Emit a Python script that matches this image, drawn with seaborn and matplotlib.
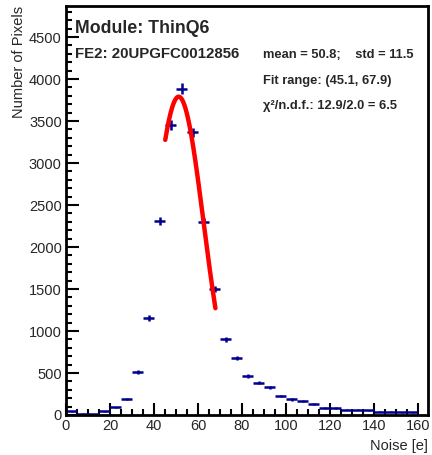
import matplotlib
matplotlib.use("Agg")
import matplotlib.pyplot as plt
from matplotlib.ticker import MultipleLocator
import numpy as np
import pandas as pd
import seaborn as sns

# histogram bins (width 5)
bin_centers = [2.5, 7.5, 12.5, 17.5, 22.5, 27.5, 32.5, 37.5, 42.5, 47.5,
               52.5, 57.5, 62.5, 67.5, 72.5, 77.5, 82.5, 87.5, 92.5, 97.5,
               102.5, 107.5, 112.5, 117.5, 122.5, 127.5, 132.5, 137.5, 142.5,
               147.5, 152.5, 157.5]
counts = [45, 15, 8, 45, 90, 187, 508, 1158, 2305, 3450,
          3885, 3365, 2300, 1500, 900, 675, 467, 385, 330, 228,
          185, 162, 130, 85, 85, 65, 62, 55, 40,
          40, 35, 30]

# gaussian fit parameters
fit_const = 3790
fit_mean = 51.2
fit_sigma = 11.3
fit_lo, fit_hi = 45.1, 67.9

df = pd.DataFrame({"noise": bin_centers, "pixels": counts})

sns.set_style("white")
plt.rcParams["font.family"] = ["Liberation Sans", "DejaVu Sans"]

fig = plt.figure(figsize=(4.32, 4.55), dpi=100)
ax = fig.add_axes([66 / 432, 1 - 415 / 455, (428 - 66) / 432, (415 - 6) / 455])

ax.errorbar(df["noise"], df["pixels"], xerr=2.5, yerr=np.sqrt(df["pixels"]),
            fmt="none", ecolor="#000090", elinewidth=1.8, capsize=0)

xf = np.linspace(fit_lo, fit_hi, 200)
fit_df = pd.DataFrame({"x": xf,
                       "y": fit_const * np.exp(-0.5 * ((xf - fit_mean) / fit_sigma) ** 2)})
sns.lineplot(data=fit_df, x="x", y="y", color="red", linewidth=3.2, ax=ax)

ax.set_xlim(0, 164.5)
ax.set_ylim(0, 4870)
ax.xaxis.set_major_locator(MultipleLocator(20))
ax.xaxis.set_minor_locator(MultipleLocator(5))
ax.yaxis.set_major_locator(MultipleLocator(500))
ax.yaxis.set_minor_locator(MultipleLocator(100))
ax.tick_params(which="both", direction="in", bottom=True, left=True,
               top=False, right=False,
               labelsize=10.5, width=1.5, color="black", pad=3)
ax.tick_params(which="major", length=9)
ax.tick_params(which="minor", length=4.5)
for s in ax.spines.values():
    s.set_linewidth(2)
    s.set_color("black")

ax.set_xlabel("Noise [e]", fontsize=10.5, loc="right", labelpad=4)
ax.set_ylabel("Number of Pixels", fontsize=10.5, loc="top", labelpad=2)

def px(x, y):
    return x / 432, 1 - y / 455

fig.text(*px(75, 33), "Module: ThinQ6", fontsize=12.8, fontweight="bold")
fig.text(*px(75, 57.5), "FE2: 20UPGFC0012856", fontsize=10.8, fontweight="bold")
fig.text(*px(263, 58), "mean = 50.8;    std = 11.5", fontsize=9.3, fontweight="bold")
fig.text(*px(263, 84), "Fit range: (45.1, 67.9)", fontsize=9.3, fontweight="bold")
fig.text(*px(263, 109), "\u03c7\u00b2/n.d.f.: 12.9/2.0 = 6.5", fontsize=9.3, fontweight="bold")

fig.savefig("out.png", dpi=100)
